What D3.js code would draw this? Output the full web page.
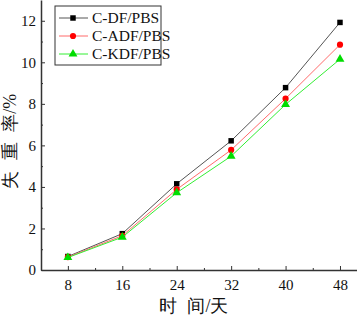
<!DOCTYPE html>
<html>
<head>
<meta charset="utf-8">
<script src="https://cdn.jsdelivr.net/npm/d3@7"></script>
<style>
  body { margin: 0; background: #fff; }
  text { font-family: "Liberation Serif", "Times New Roman", serif; }
</style>
</head>
<body>
<div id="chart"></div>
<script>
// data
const days = [8, 16, 24, 32, 40, 48];
const cdf  = [0.65, 1.75, 4.15, 6.22, 8.78, 11.92];
const cadf = [0.62, 1.65, 3.88, 5.78, 8.25, 10.85];
const ckdf = [0.60, 1.58, 3.72, 5.48, 7.97, 10.15];
const seriesNames = ["C-DF/PBS", "C-ADF/PBS", "C-KDF/PBS"];
const yTicks = [0, 2, 4, 6, 8, 10, 12];

const W = 357, H = 317;
const margin = {top: 0, right: 0, bottom: 47, left: 41};
const width = W - margin.left - margin.right,
      height = H - margin.top - margin.bottom;

const svg = d3.select("#chart").append("svg")
    .attr("width", W).attr("height", H)
  .append("g")
    .attr("transform", `translate(${margin.left},${margin.top})`);

const x = d3.scaleLinear().domain([4.05, 50.5]).range([0, width]);
const y = d3.scaleLinear().domain([0, 13]).range([height, 0]);

const axisColor = "#333";

// minor ticks
svg.append("g")
    .attr("transform", `translate(0,${height})`)
    .call(d3.axisBottom(x).tickValues([12, 20, 28, 36, 44]).tickSize(-2).tickFormat(""))
    .call(g => g.select(".domain").remove())
    .call(g => g.selectAll("line").attr("stroke", axisColor));
svg.append("g")
    .call(d3.axisLeft(y).tickValues([1, 3, 5, 7, 9, 11]).tickSize(-2).tickFormat(""))
    .call(g => g.select(".domain").remove())
    .call(g => g.selectAll("line").attr("stroke", axisColor));

// X axis
svg.append("g")
    .attr("transform", `translate(0,${height})`)
    .call(d3.axisBottom(x).tickValues(days).tickSize(-4).tickSizeOuter(0).tickPadding(9))
    .call(g => g.select(".domain").attr("stroke", axisColor).attr("stroke-width", 1.5))
    .call(g => g.selectAll("line").attr("stroke", axisColor))
    .call(g => g.selectAll("text").attr("font-size", 15).attr("fill", "#111")
        .attr("font-family", "Liberation Serif"));

// Y axis
svg.append("g")
    .call(d3.axisLeft(y).tickValues(yTicks).tickSize(-4).tickSizeOuter(0).tickPadding(5))
    .call(g => g.select(".domain").attr("stroke", axisColor).attr("stroke-width", 1.5))
    .call(g => g.selectAll("line").attr("stroke", axisColor))
    .call(g => g.selectAll("text").attr("font-size", 15).attr("fill", "#111")
        .attr("font-family", "Liberation Serif"));

// axis titles
svg.append("text")
    .attr("x", x(26.5)).attr("y", H - 5)
    .attr("text-anchor", "middle")
    .attr("font-size", 18)
    .attr("fill", "#111")
    .attr("font-family", "Noto Sans CJK SC, serif")
    .attr("word-spacing", 6)
    .style("font-weight", 300)
    .text("时 间/天");
svg.append("text")
    .attr("transform", `translate(${-25},${y(6.2)}) rotate(-90)`)
    .attr("text-anchor", "middle")
    .attr("font-size", 18)
    .attr("fill", "#111")
    .attr("font-family", "Noto Sans CJK SC, serif")
    .attr("word-spacing", 6)
    .style("font-weight", 300)
    .text("失 重 率/%");

const series = [
  {name: seriesNames[0], values: cdf,  line: "#555", fill: "#000", shape: d3.symbolSquare},
  {name: seriesNames[1], values: cadf, line: "#ff6b6b", fill: "#ff0000", shape: d3.symbolCircle},
  {name: seriesNames[2], values: ckdf, line: "#33ee33", fill: "#00dd00", shape: d3.symbolTriangle}
];

const line = d3.line()
  .x((d, i) => x(days[i]))
  .y(d => y(d));

series.forEach(s => {
  svg.append("path")
    .datum(s.values)
    .attr("fill", "none")
    .attr("stroke", s.line)
    .attr("stroke-width", 1)
    .attr("d", line);
  svg.append("g").selectAll("path")
    .data(s.values)
    .enter().append("path")
    .attr("transform", (d, i) => `translate(${x(days[i])},${y(d)})`)
    .attr("d", d3.symbol().type(s.shape).size(s.shape === d3.symbolTriangle ? 34 : 30))
    .attr("fill", s.fill);
});

// legend
const lg = svg.append("g").attr("transform", "translate(14,6)");
lg.append("rect")
  .attr("width", 106).attr("height", 59)
  .attr("fill", "#fff").attr("stroke", "#333").attr("stroke-width", 1);
series.forEach((s, i) => {
  const yy = 12 + i * 18;
  lg.append("line")
    .attr("x1", 4).attr("x2", 33).attr("y1", yy).attr("y2", yy)
    .attr("stroke", s.line).attr("stroke-width", 1);
  lg.append("path")
    .attr("transform", `translate(18,${yy})`)
    .attr("d", d3.symbol().type(s.shape).size(s.shape === d3.symbolTriangle ? 34 : 30))
    .attr("fill", s.fill);
  lg.append("text")
    .attr("x", 37).attr("y", yy + 5)
    .attr("font-size", 15.5)
    .attr("fill", "#111")
    .text(s.name);
});
</script>
</body>
</html>
